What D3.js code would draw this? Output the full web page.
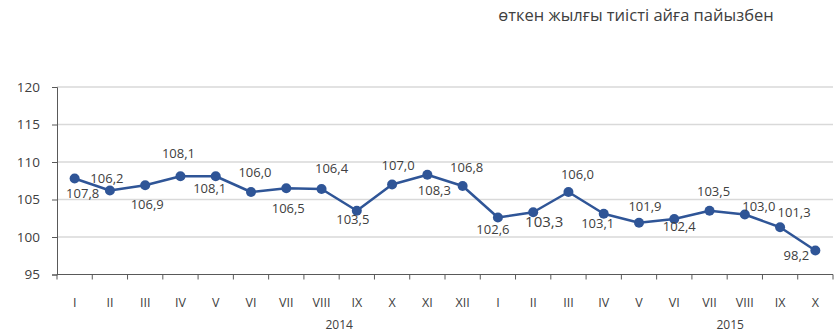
<!DOCTYPE html>
<html>
<head>
<meta charset="utf-8">
<script src="https://cdn.jsdelivr.net/npm/d3@7/dist/d3.min.js"></script>
<style>
  html, body { margin: 0; padding: 0; background: #fff; }
  svg { display: block; }
  text { font-family: "Open Sans", "Noto Sans", sans-serif; fill: #404040; }
</style>
</head>
<body>
<svg id="chart" width="837" height="333"></svg>
<script>
// Monthly index, % of the same month of the previous year
const months = ["I","II","III","IV","V","VI","VII","VIII","IX","X","XI","XII",
                "I","II","III","IV","V","VI","VII","VIII","IX","X"];
const values = [107.8,106.2,106.9,108.1,108.1,106.0,106.5,106.4,103.5,107.0,108.3,106.8,
                102.6,103.3,106.0,103.1,101.9,102.4,103.5,103.0,101.3,98.2];
const years = ["2014","2015"];
const yTicks = [95,100,105,110,115,120];
const title = "өткен жылғы тиісті айға пайызбен";

// label placement relative to each point: [dx, dy]
const labelOffsets = [
  [8,16],[-3,-11],[2,20],[-2,-22],[-6,13],[4,-18],[2,21],[10,-19],[-4,10],[6,-18],[7,17],[4,-17],
  [-5,13],[11,11],[9,-16],[-6,11],[6,-15],[5,9],[4,-18],[14,-7],[14,-14],[-19,6]
];

const svg = d3.select("#chart");
const plotL = 57, plotR = 833, plotT = 87, plotB = 274.5;

const x = d3.scaleBand().domain(d3.range(months.length)).range([plotL, plotR]);
const y = d3.scaleLinear().domain([95, 120]).range([plotB, plotT]);

// horizontal gridlines
svg.append("g").selectAll("line").data(yTicks.filter(d => d > 95)).join("line")
  .attr("x1", plotL).attr("x2", plotR)
  .attr("y1", d => y(d)).attr("y2", d => y(d))
  .attr("stroke", "#d9d9d9").attr("stroke-width", 1.5);

// y axis
const yAxis = svg.append("g").attr("transform", `translate(${plotL},0)`)
  .call(d3.axisLeft(y).tickValues(yTicks).tickSize(5).tickPadding(12).tickFormat(d3.format("d")));
yAxis.select(".domain").attr("stroke", "#595959");
yAxis.selectAll(".tick line").attr("stroke", "#595959");
yAxis.selectAll("text").style("font-size", "13.5px").attr("fill", "#404040");

// x axis line and tick marks at band boundaries
svg.append("line").attr("x1", plotL).attr("x2", plotR).attr("y1", plotB).attr("y2", plotB)
  .attr("stroke", "#595959").attr("stroke-width", 1);
svg.append("g").selectAll("line").data(d3.range(months.length + 1)).join("line")
  .attr("x1", i => plotL + i * x.step()).attr("x2", i => plotL + i * x.step())
  .attr("y1", plotB).attr("y2", plotB + 5)
  .attr("stroke", "#595959");

// month labels
svg.append("g").selectAll("text").data(months).join("text")
  .attr("x", (d, i) => x(i) + x.bandwidth() / 2)
  .attr("y", 307)
  .attr("text-anchor", "middle")
  .style("font-size", "12.5px")
  .text(d => d);

// year labels
svg.append("g").selectAll("text").data(years).join("text")
  .attr("x", (d, i) => i === 0 ? x(8) : x(19) + 3)
  .attr("y", 329)
  .attr("text-anchor", "middle")
  .style("font-size", "12px")
  .text(d => d);

// series line
const line = d3.line().x((d, i) => x(i) + x.bandwidth() / 2).y(d => y(d));
svg.append("path").datum(values)
  .attr("d", line).attr("fill", "none")
  .attr("stroke", "#2f5597").attr("stroke-width", 2.5).attr("stroke-linejoin", "round");

svg.append("g").selectAll("circle").data(values).join("circle")
  .attr("cx", (d, i) => x(i) + x.bandwidth() / 2)
  .attr("cy", d => y(d))
  .attr("r", 5)
  .attr("fill", "#2f5597");

// value labels
const fmt = v => v.toFixed(1).replace(".", ",");
svg.append("g").selectAll("text").data(values).join("text")
  .attr("x", (d, i) => x(i) + x.bandwidth() / 2 + labelOffsets[i][0])
  .attr("y", (d, i) => y(d) + labelOffsets[i][1])
  .attr("text-anchor", "middle")
  .attr("dominant-baseline", "middle")
  .style("font-size", (d, i) => i === 13 ? "15px" : "13px")
  .text(fmt);

// title
svg.append("text")
  .attr("x", 636).attr("y", 21)
  .attr("text-anchor", "middle")
  .style("font-size", "16.5px")
  .text(title);
</script>
</body>
</html>
